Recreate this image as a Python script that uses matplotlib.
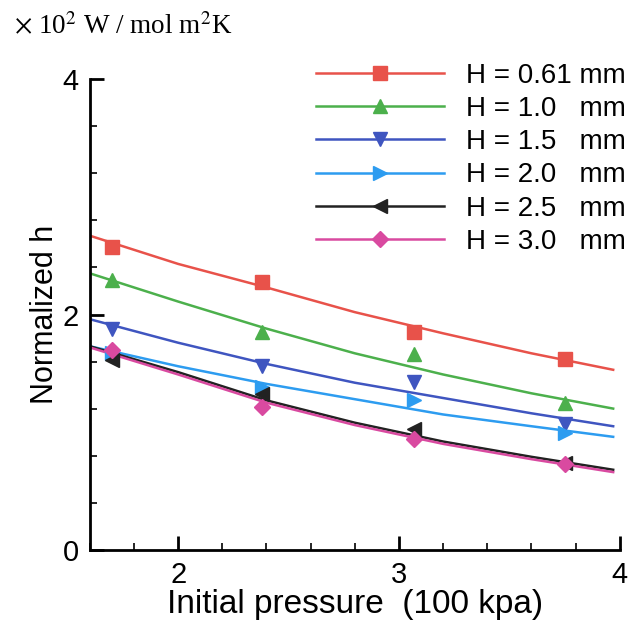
import matplotlib.pyplot as plt
from matplotlib.ticker import MultipleLocator

plt.rcParams['font.family'] = ['Liberation Sans', 'DejaVu Sans']
plt.rcParams['mathtext.fontset'] = 'stix'

# measured points
x_pts = [1.70, 2.38, 3.07, 3.75]
h_061 = [2.57, 2.28, 1.85, 1.62]
h_10 = [2.29, 1.85, 1.66, 1.25]
h_15 = [1.88, 1.56, 1.43, 1.07]
h_20 = [1.67, 1.38, 1.27, 0.99]
h_25 = [1.61, 1.32, 1.03, 0.74]
h_30 = [1.70, 1.21, 0.94, 0.73]

# fitted curves
x_fit = [1.6, 2.0, 2.4, 2.8, 3.2, 3.6, 3.97]
fit_061 = [2.67, 2.43, 2.23, 2.02, 1.84, 1.67, 1.53]
fit_10 = [2.35, 2.11, 1.88, 1.67, 1.49, 1.33, 1.20]
fit_15 = [1.96, 1.76, 1.58, 1.42, 1.29, 1.16, 1.05]
fit_20 = [1.73, 1.56, 1.41, 1.28, 1.15, 1.05, 0.96]
fit_25 = [1.73, 1.51, 1.27, 1.08, 0.92, 0.79, 0.68]
fit_30 = [1.72, 1.49, 1.25, 1.06, 0.90, 0.77, 0.66]

labels = ["H = 0.61 mm", "H = 1.0   mm", "H = 1.5   mm",
          "H = 2.0   mm", "H = 2.5   mm", "H = 3.0   mm"]
colors = ['#e8524a', '#4cb04c', '#3f55c0', '#2d9cf0', '#222222', '#d94aa0']
markers = ['s', '^', 'v', '>', '<', 'D']
points = [h_061, h_10, h_15, h_20, h_25, h_30]
fits = [fit_061, fit_10, fit_15, fit_20, fit_25, fit_30]

fig = plt.figure(figsize=(6.37, 6.29), dpi=100)
ax = fig.add_axes([0.141, 0.126, 0.832, 0.748])

for i in range(6):
    ax.plot(x_fit, fits[i], color=colors[i], lw=1.8, zorder=2)
    ms = 8 if markers[i] == 'D' else 10
    ax.plot(x_pts, points[i], linestyle='none', marker=markers[i],
            color=colors[i], ms=ms, zorder=3)
    # legend proxy
    ax.plot([], [], color=colors[i], lw=1.8, marker=markers[i], ms=ms,
            label=labels[i])

ax.set_xlim(1.6, 4)
ax.set_ylim(0, 4)
ax.xaxis.set_major_locator(MultipleLocator(1))
ax.xaxis.set_minor_locator(MultipleLocator(0.2))
ax.yaxis.set_major_locator(MultipleLocator(2))
ax.yaxis.set_minor_locator(MultipleLocator(0.4))
ax.spines['top'].set_visible(False)
ax.spines['right'].set_visible(False)
ax.spines['left'].set_linewidth(2)
ax.spines['bottom'].set_linewidth(2)
ax.tick_params(which='major', direction='in', length=10, width=2,
               labelsize=21, pad=8)
ax.tick_params(which='minor', direction='in', length=5, width=1.2)

ax.set_xlabel("Initial pressure  (100 kpa)", fontsize=24, labelpad=0)
ax.set_ylabel("Normalized h", fontsize=22, labelpad=2)

fig.text(0.022, 0.958, r"$\times$ 10$^{2}$ W / mol m$^{2}$K",
         family='Liberation Serif', fontsize=19.5, va='center')

ax.legend(loc='upper right', bbox_to_anchor=(1.0, 0.918),
          bbox_transform=fig.transFigure, frameon=False, fontsize=20,
          handlelength=4.6, handletextpad=0.8, labelspacing=0.26,
          markerfirst=True, borderaxespad=0)

fig.savefig('out.png', dpi=100)
